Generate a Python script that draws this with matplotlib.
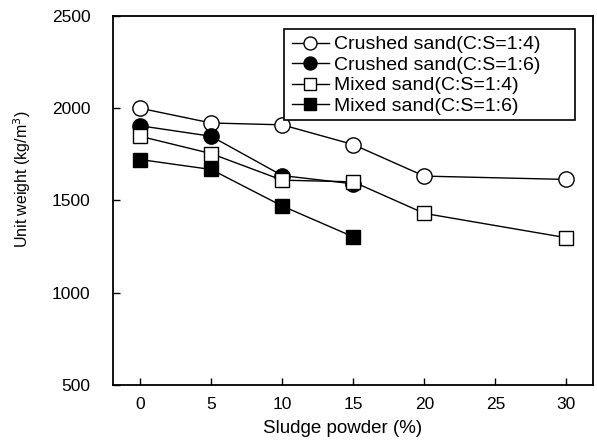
import matplotlib
matplotlib.use("Agg")
import matplotlib.pyplot as plt
from matplotlib.patches import Rectangle

plt.rcParams['font.family'] = ['Liberation Sans', 'DejaVu Sans']

sludge = [0, 5, 10, 15, 20, 30]
crushed_14 = [2000, 1920, 1910, 1803, 1632, 1614]
crushed_16 = [1905, 1848, 1635, 1590]
mixed_14 = [1848, 1754, 1610, 1601, 1430, 1298]
mixed_16 = [1722, 1668, 1470, 1303]

labels = ['Crushed sand(C:S=1:4)', 'Crushed sand(C:S=1:6)',
          'Mixed sand(C:S=1:4)', 'Mixed sand(C:S=1:6)']

fig = plt.figure(figsize=(5.97, 4.44), dpi=100)
ax = fig.add_axes([0.189, 0.133, 0.804, 0.831])

# open square drawn above the filled circle at 15 %
ax.plot(sludge, crushed_14, color='black', lw=1, marker='o', ms=11,
        mfc='white', mec='black', mew=1, label=labels[0], zorder=3)
ax.plot(sludge[:4], crushed_16, color='black', lw=1, marker='o', ms=11,
        mfc='black', mec='black', mew=1, label=labels[1], zorder=3)
ax.plot(sludge, mixed_14, color='black', lw=1, marker='s', ms=10,
        mfc='white', mec='black', mew=1, label=labels[2], zorder=4)
ax.plot(sludge[:4], mixed_16, color='black', lw=1, marker='s', ms=10,
        mfc='black', mec='black', mew=1, label=labels[3], zorder=4)

ax.set_xlim(-1.92, 31.86)
ax.set_ylim(500, 2500)
ax.set_xticks([0, 5, 10, 15, 20, 25, 30])
ax.set_yticks([500, 1000, 1500, 2000, 2500])
ax.tick_params(direction='in', length=5, width=1, labelsize=12.5)
ax.tick_params(axis='y', pad=16)
ax.tick_params(axis='x', pad=9)
for s in ax.spines.values():
    s.set_linewidth(1.3)

ax.set_xlabel('Sludge powder (%)', fontsize=13.5)
ax.xaxis.set_label_coords(0.478, -0.095)
ax.set_ylabel('Unit weight (kg/m$^3$)', fontsize=11.5)
ax.yaxis.set_label_coords(-0.166, 0.558)

# legend box is wider than its contents in the original
leg = ax.legend(loc='upper left', bbox_to_anchor=(0.3585, 0.965),
                borderaxespad=0, fontsize=14, handlelength=1.9,
                handletextpad=0.3, labelspacing=0.15, borderpad=0.35,
                markerscale=0.85, frameon=False)
leg.set_zorder(6)
ax.add_patch(Rectangle((0.3567, 0.718), 0.6058, 0.247, transform=ax.transAxes,
                       facecolor='white', edgecolor='black', lw=1.2, zorder=5))

fig.savefig('out.png', dpi=100)
